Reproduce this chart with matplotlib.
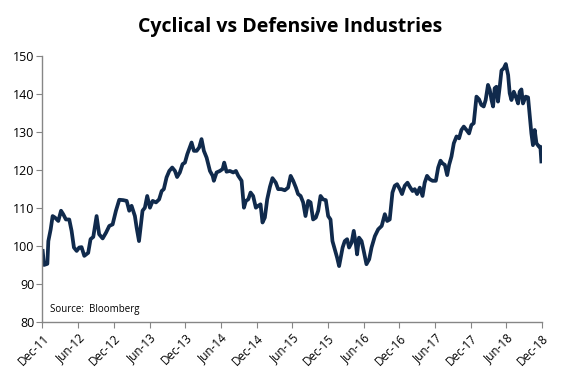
import matplotlib
matplotlib.use('Agg')
import matplotlib.pyplot as plt
import matplotlib.dates as mdates
import pandas as pd

# values (index level)
dates = [
    '2011-12-31', '2012-01-07', '2012-01-24', '2012-01-29', '2012-02-10', '2012-02-20',
    '2012-03-03', '2012-03-20', '2012-04-03', '2012-04-14', '2012-04-28', '2012-05-15',
    '2012-05-27', '2012-06-08', '2012-06-22', '2012-07-05', '2012-07-17', '2012-07-31',
    '2012-08-20', '2012-09-01', '2012-09-15', '2012-10-02', '2012-10-15', '2012-11-02',
    '2012-11-19', '2012-12-06', '2012-12-23', '2013-01-09', '2013-01-26', '2013-02-15',
    '2013-03-05', '2013-03-18', '2013-03-30', '2013-04-16', '2013-04-25', '2013-05-07',
    '2013-05-25', '2013-06-06', '2013-06-18', '2013-07-02', '2013-07-16', '2013-08-02',
    '2013-08-18', '2013-08-31', '2013-09-11', '2013-09-25', '2013-10-09', '2013-10-24',
    '2013-11-07', '2013-11-18', '2013-12-02', '2013-12-16', '2013-12-28', '2014-01-09',
    '2014-01-22', '2014-01-31', '2014-02-12', '2014-02-26', '2014-03-11', '2014-03-23',
    '2014-04-04', '2014-04-18', '2014-05-05', '2014-05-19', '2014-05-25', '2014-06-08',
    '2014-06-25', '2014-07-09', '2014-07-17', '2014-07-29', '2014-08-15', '2014-09-01',
    '2014-09-15', '2014-09-27', '2014-10-14', '2014-10-26', '2014-11-05', '2014-11-17',
    '2014-11-29', '2014-12-12', '2014-12-26', '2015-01-07', '2015-01-19', '2015-01-29',
    '2015-02-10', '2015-02-22', '2015-03-08', '2015-03-21', '2015-04-07', '2015-04-19',
    '2015-05-06', '2015-05-23', '2015-06-09', '2015-06-22', '2015-07-05', '2015-07-19',
    '2015-07-30', '2015-08-12', '2015-08-25', '2015-09-06', '2015-09-20', '2015-10-02',
    '2015-10-15', '2015-10-29', '2015-11-10', '2015-11-22', '2015-12-05', '2015-12-19',
    '2015-12-31', '2016-01-12', '2016-01-22', '2016-02-03', '2016-02-15', '2016-02-25',
    '2016-03-14', '2016-03-25', '2016-04-06', '2016-04-16', '2016-04-29', '2016-05-10',
    '2016-05-21', '2016-05-27', '2016-06-06', '2016-06-19', '2016-06-30', '2016-07-14',
    '2016-07-28', '2016-08-09', '2016-08-26', '2016-09-12', '2016-09-30', '2016-10-16',
    '2016-10-28', '2016-11-10', '2016-11-24', '2016-12-06', '2016-12-18', '2017-01-01',
    '2017-01-12', '2017-01-26', '2017-02-09', '2017-02-21', '2017-03-07', '2017-03-18',
    '2017-03-30', '2017-04-13', '2017-04-27', '2017-05-08', '2017-05-20', '2017-06-03',
    '2017-06-17', '2017-07-04', '2017-07-16', '2017-07-28', '2017-08-07', '2017-08-19',
    '2017-08-31', '2017-09-10', '2017-09-22', '2017-10-04', '2017-10-18', '2017-10-31',
    '2017-11-12', '2017-11-24', '2017-12-08', '2017-12-21', '2018-01-02', '2018-01-14',
    '2018-01-28', '2018-02-10', '2018-02-22', '2018-03-06', '2018-03-16', '2018-03-28',
    '2018-04-06', '2018-04-15', '2018-04-23', '2018-05-01', '2018-05-10', '2018-05-18',
    '2018-05-27', '2018-06-05', '2018-06-17', '2018-06-27', '2018-07-09', '2018-07-17',
    '2018-07-26', '2018-08-07', '2018-08-17', '2018-08-29', '2018-09-06', '2018-09-15',
    '2018-09-23', '2018-10-07', '2018-10-19', '2018-10-28', '2018-11-05', '2018-11-13',
    '2018-11-22', '2018-12-01', '2018-12-14', '2018-12-21', '2018-12-26',
]
ratio = [
    98.7, 95.0, 95.3, 101.3, 104.4, 107.9,
    107.5, 106.6, 109.3, 108.4, 107.0, 107.0,
    104.0, 99.6, 98.7, 99.6, 99.7, 97.4,
    98.2, 101.8, 102.4, 107.9, 103.1, 102.0,
    103.5, 105.3, 105.7, 109.3, 112.2, 112.1,
    111.9, 109.3, 110.6, 107.9, 104.8, 101.3,
    109.3, 110.1, 113.2, 110.1, 111.9, 111.5,
    112.3, 114.5, 115.0, 118.1, 119.8, 120.7,
    119.8, 118.2, 119.4, 121.6, 122.0, 124.2,
    126.0, 127.3, 125.1, 125.1, 126.0, 128.2,
    125.1, 123.3, 119.8, 118.5, 117.2, 119.4,
    119.8, 120.3, 122.0, 119.6, 119.8, 119.4,
    119.8, 118.5, 117.2, 110.1, 111.9, 112.3,
    114.1, 113.2, 110.1, 110.6, 111.0, 106.2,
    107.5, 112.3, 115.6, 117.9, 116.7, 115.0,
    115.0, 114.7, 115.4, 118.5, 117.2, 115.4,
    113.7, 113.2, 111.5, 107.9, 111.9, 111.5,
    107.0, 107.5, 109.3, 113.2, 112.3, 112.1,
    107.9, 107.0, 101.3, 99.1, 96.9, 94.7,
    99.6, 101.3, 101.8, 99.6, 100.9, 104.0,
    100.4, 97.8, 102.2, 101.3, 98.7, 95.2,
    96.5, 99.6, 102.6, 104.4, 105.3, 108.4,
    106.6, 107.0, 114.1, 115.9, 116.3, 115.0,
    113.7, 115.9, 116.7, 115.6, 114.5, 115.0,
    113.7, 115.4, 113.2, 116.7, 118.5, 117.6,
    117.2, 117.2, 120.7, 122.5, 121.8, 121.4,
    118.7, 121.4, 123.6, 127.1, 128.9, 128.4,
    130.6, 131.5, 130.6, 129.7, 131.9, 132.4,
    139.4, 138.7, 137.2, 136.8, 138.5, 142.5,
    141.2, 138.5, 136.8, 141.6, 142.0, 138.1,
    142.0, 146.3, 146.9, 148.0, 145.1, 140.3,
    138.5, 140.7, 139.4, 137.6, 140.7, 141.3,
    137.6, 139.4, 139.2, 134.1, 129.7, 126.6,
    130.6, 127.1, 126.2, 126.2, 122.3,
]

tick_dates = ['2011-12-30', '2012-06-30', '2012-12-30', '2013-06-30', '2013-12-30',
              '2014-06-30', '2014-12-30', '2015-06-30', '2015-12-30', '2016-06-30',
              '2016-12-30', '2017-06-30', '2017-12-30', '2018-06-30', '2018-12-30']
tick_labels = ['Dec-11', 'Jun-12', 'Dec-12', 'Jun-13', 'Dec-13', 'Jun-14', 'Dec-14',
               'Jun-15', 'Dec-15', 'Jun-16', 'Dec-16', 'Jun-17', 'Dec-17', 'Jun-18', 'Dec-18']
y_ticks = [80, 90, 100, 110, 120, 130, 140, 150]

plt.rcParams['font.family'] = ['Open Sans', 'DejaVu Sans']

x = pd.to_datetime(dates)
xt = pd.to_datetime(tick_dates)

fig = plt.figure(figsize=(5.81, 3.92), dpi=100)
ax = fig.add_axes([0.0731, 0.179, 0.86, 0.677])

ax.plot(x, ratio, color='#102a4c', linewidth=2.7, solid_joinstyle='round')

ax.set_xlim(xt[0], xt[-1])
ax.set_ylim(80, 150)
ax.set_yticks(y_ticks)
ax.set_xticks(xt)
ax.set_xticklabels(tick_labels, rotation=45, ha='right', va='top',
                   rotation_mode='anchor', fontsize=8.5)
ax.tick_params(axis='y', labelsize=9, length=4, color='#868686', pad=2)
ax.tick_params(axis='x', length=4, color='#868686', pad=3)

for side in ['top', 'right']:
    ax.spines[side].set_visible(False)
for side in ['left', 'bottom']:
    ax.spines[side].set_color('#868686')
    ax.spines[side].set_linewidth(1)

ax.text(0.016, 0.045, 'Source:  Bloomberg', transform=ax.transAxes,
        fontsize=7, va='center', ha='left')

fig.text(0.5, 0.93, 'Cyclical vs Defensive Industries', ha='center', va='center',
         fontsize=14, fontweight='bold')

fig.savefig('out.png', dpi=100)
